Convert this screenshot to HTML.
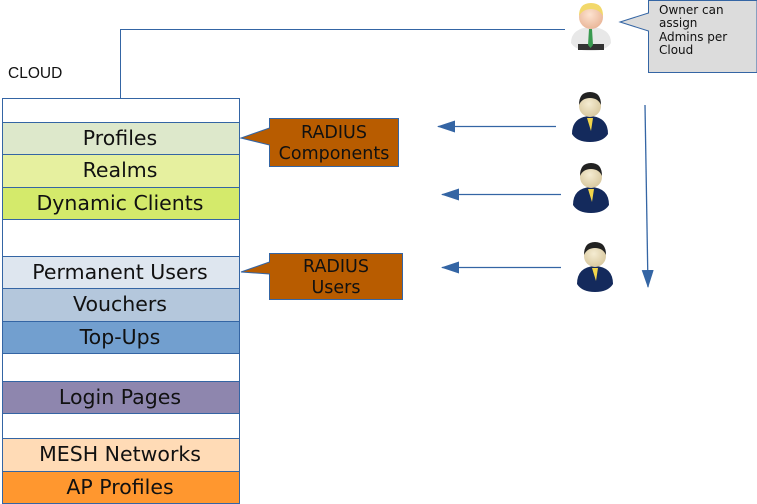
<!DOCTYPE html>
<html><head><meta charset="utf-8"><style>
html,body{margin:0;padding:0;background:#fff;}
svg{display:block;}
text{font-family:"DejaVu Sans","Liberation Sans",sans-serif;}
</style></head><body>
<svg width="757" height="504" viewBox="0 0 757 504" xmlns="http://www.w3.org/2000/svg">
<defs>
<marker id="ah" markerWidth="18" markerHeight="12" refX="17" refY="6" orient="auto" markerUnits="userSpaceOnUse">
<path d="M0,0 L18,6 L0,12z" fill="#3465a4"/>
</marker>
<radialGradient id="face" cx="0.45" cy="0.4" r="0.6"><stop offset="0" stop-color="#f5ecd2"/><stop offset="1" stop-color="#d9c9a0"/></radialGradient>
<radialGradient id="face2" cx="0.45" cy="0.4" r="0.6"><stop offset="0" stop-color="#fde3d0"/><stop offset="1" stop-color="#eab79a"/></radialGradient>
</defs>
<text x="8" y="78" font-size="15.5" fill="#111" font-family="Liberation Sans, sans-serif" style="font-family:'Liberation Sans',sans-serif">CLOUD</text>
<polyline points="120.5,98 120.5,29.5 565,29.5" fill="none" stroke="#3465a4" stroke-width="1"/>
<rect x="2.5" y="98.5" width="237" height="405" fill="#fff" stroke="#3465a4"/>
<g stroke="#3465a4" stroke-width="1">
<rect x="2.5" y="122.5" width="237" height="32" fill="#dde8cb"/>
<rect x="2.5" y="154.5" width="237" height="33" fill="#e6f09f"/>
<rect x="2.5" y="187.5" width="237" height="32" fill="#d4ea6b"/>
<rect x="2.5" y="256.5" width="237" height="32" fill="#dee6ef"/>
<rect x="2.5" y="288.5" width="237" height="33" fill="#b4c7dc"/>
<rect x="2.5" y="321.5" width="237" height="32" fill="#729fcf"/>
<rect x="2.5" y="381.5" width="237" height="32" fill="#8e86ae"/>
<rect x="2.5" y="438.5" width="237" height="33" fill="#ffdbb6"/>
<rect x="2.5" y="471.5" width="237" height="32" fill="#ff972f"/>
</g>
<g font-size="20.5" fill="#111" text-anchor="middle">
<text x="120" y="145">Profiles</text>
<text x="120" y="177">Realms</text>
<text x="120" y="210">Dynamic Clients</text>
<text x="120" y="279">Permanent Users</text>
<text x="120" y="311">Vouchers</text>
<text x="120" y="344">Top-Ups</text>
<text x="120" y="404">Login Pages</text>
<text x="120" y="461">MESH Networks</text>
<text x="120" y="494">AP Profiles</text>
</g>
<path d="M269.5,118.5 H398.5 V166.5 H269.5 V145 L241,138 L269.5,128 Z" fill="#b85c00" stroke="#3465a4"/>
<text x="334" y="138" font-size="17.5" fill="#111" text-anchor="middle">RADIUS</text>
<text x="334" y="159" font-size="17.5" fill="#111" text-anchor="middle">Components</text>
<path d="M269.5,253.5 H402.5 V299.5 H269.5 V274 L241,272 L269.5,262 Z" fill="#b85c00" stroke="#3465a4"/>
<text x="336" y="272" font-size="17.5" fill="#111" text-anchor="middle">RADIUS</text>
<text x="336" y="293" font-size="17.5" fill="#111" text-anchor="middle">Users</text>
<path d="M648.5,0.5 H757 V72.5 H648.5 V31 L620,22 L648.5,13 Z" fill="#dcdcdc" stroke="#3465a4"/>
<g font-size="12" fill="#111">
<text x="659" y="14">Owner can</text>
<text x="659" y="27">assign</text>
<text x="659" y="41">Admins per</text>
<text x="659" y="54">Cloud</text>
</g>
<g stroke="#3465a4" stroke-width="1.3" fill="none">
<line x1="556" y1="126.5" x2="438" y2="126.5" marker-end="url(#ah)"/>
<line x1="561" y1="194.5" x2="442" y2="194.5" marker-end="url(#ah)"/>
<line x1="561" y1="267.5" x2="442" y2="267.5" marker-end="url(#ah)"/>
<line x1="645" y1="105" x2="648" y2="287" marker-end="url(#ah)"/>
</g>
<g>
<path d="M571,43 Q571,28 591,27 Q611,28 611,43 Q606,51 591,51 Q576,51 571,43Z" fill="#e8e8e8"/>
<rect x="578" y="44" width="26" height="6" fill="#333"/>
<path d="M589,29 L592,29 L593,45 L590.5,48 L588,45Z" fill="#3a9a50"/>
<circle cx="591" cy="17" r="12" fill="url(#face2)"/>
<path d="M579,16 Q579,3 591,3 Q603,3 603,16 Q599,9 591,9 Q583,9 579,16Z" fill="#f2d86a"/>
</g>
<g id="u1">
<path d="M572,134 Q572,117 590,116 Q608,117 608,134 Q603,142 590,142 Q577,142 572,134Z" fill="#142a5c"/>
<path d="M587,118 L593,118 L591,131Z" fill="#f2d54a"/>
<circle cx="590" cy="106" r="11" fill="url(#face)"/>
<path d="M579,105 Q579,92 590,92 Q601,92 601,105 Q598,98 590,98 Q582,98 579,105Z" fill="#222"/>
</g>
<use href="#u1" transform="translate(1,71)"/>
<use href="#u1" transform="translate(5,150)"/>
</svg>
</body></html>
